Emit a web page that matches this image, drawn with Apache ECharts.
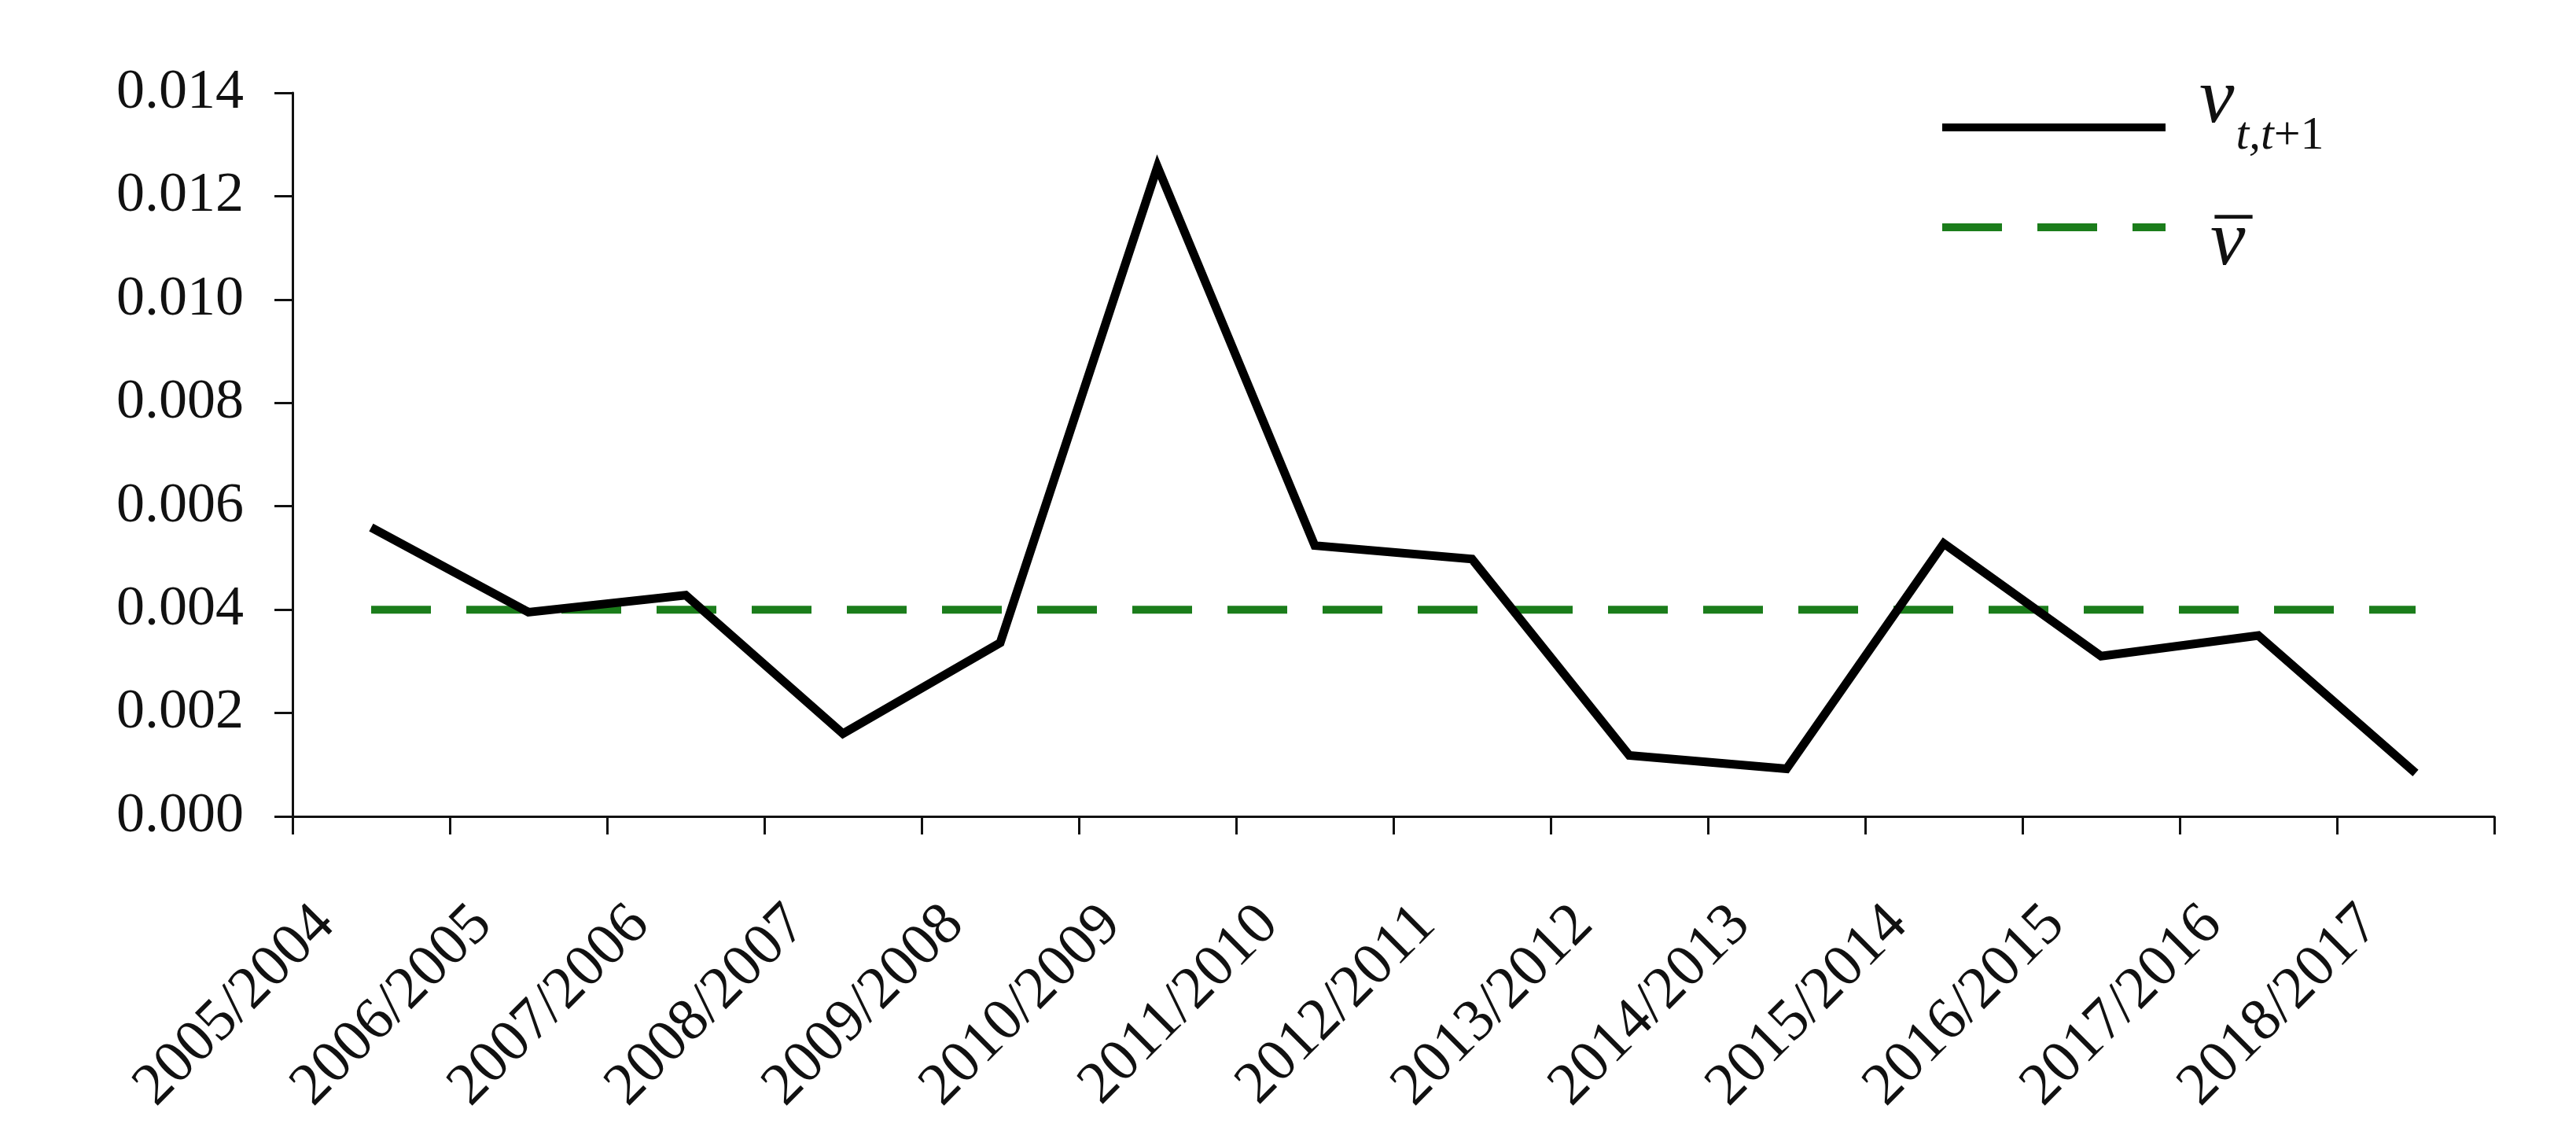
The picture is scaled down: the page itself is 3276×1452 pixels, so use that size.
<!DOCTYPE html>
<html>
<head>
<meta charset="utf-8">
<script src="https://cdn.jsdelivr.net/npm/echarts@6/dist/echarts.min.js"></script>
<style>
html, body { margin: 0; padding: 0; background: #ffffff; }
#chart { width: 3276px; height: 1452px; }
</style>
</head>
<body>
<div id="chart"></div>
<script>
// ---- data ----
const categories = ['2005/2004', '2006/2005', '2007/2006', '2008/2007', '2009/2008', '2010/2009', '2011/2010',
  '2012/2011', '2013/2012', '2014/2013', '2015/2014', '2016/2015', '2017/2016', '2018/2017'];
const changeValues = [0.00559, 0.00395, 0.00428, 0.0016, 0.00336, 0.01257, 0.00524,
  0.00498, 0.00118, 0.00092, 0.00528, 0.0031, 0.0035, 0.00084];
const meanValues = [0.004, 0.004, 0.004, 0.004, 0.004, 0.004, 0.004,
  0.004, 0.004, 0.004, 0.004, 0.004, 0.004, 0.004];
const yMin = 0;
const yMax = 0.014;
const yStep = 0.002;
const seriesNames = ['v_t_t1', 'v_bar'];

// ---- styles ----
const serif = 'Liberation Serif';
const ink = '#111111';
const green = '#1b7d1b';
const dashPattern = [76, 45];

const chart = echarts.init(document.getElementById('chart'), null, { renderer: 'canvas' });

chart.setOption({
  animation: false,
  backgroundColor: '#ffffff',
  grid: { left: 372, right: 104, top: 118, bottom: 414, containLabel: false },
  legend: [
    {
      data: [seriesNames[0]],
      orient: 'vertical', left: 2465, top: 79, padding: 0,
      itemWidth: 284, itemHeight: 10, selectedMode: false,
      itemStyle: { opacity: 0 },
      lineStyle: { width: 10, color: '#000000', type: 'solid' },
      formatter: function () { return '{v|v}{s|t,t}{n|+1}'; },
      textStyle: {
        color: ink,
        rich: {
          v: { fontFamily: serif, fontStyle: 'italic', fontSize: 100, lineHeight: 100, padding: [0, 0, 66, 38], color: ink },
          s: { fontFamily: serif, fontStyle: 'italic', fontSize: 60, lineHeight: 60, padding: [22, 0, 0, 2], color: ink },
          n: { fontFamily: serif, fontSize: 60, lineHeight: 60, padding: [22, 0, 0, 0], color: ink }
        }
      }
    },
    {
      data: [seriesNames[1]],
      orient: 'vertical', left: 2465, top: 225, padding: 0,
      itemWidth: 284, itemHeight: 10, selectedMode: false,
      itemStyle: { opacity: 0 },
      lineStyle: { width: 10, color: green, type: dashPattern },
      formatter: function () { return '{b|\u2013}\n{v|v}'; },
      textStyle: {
        color: ink,
        rich: {
          b: { fontFamily: serif, fontSize: 94, lineHeight: 42, padding: [0, 0, 0, 58], color: ink },
          v: { fontFamily: serif, fontStyle: 'italic', fontSize: 100, lineHeight: 34, padding: [0, 0, 0, 52], color: ink }
        }
      }
    }
  ],
  xAxis: {
    type: 'category',
    data: categories,
    boundaryGap: true,
    axisLine: { show: true, lineStyle: { color: ink, width: 3 } },
    axisTick: { show: true, length: 23, alignWithLabel: false, lineStyle: { color: ink, width: 3 } },
    axisLabel: {
      interval: 0, rotate: 45, margin: 68, padding: [0, 82, 0, 0],
      fontFamily: serif, fontSize: 76, color: ink
    },
    splitLine: { show: false }
  },
  yAxis: {
    type: 'value',
    min: yMin, max: yMax, interval: yStep,
    axisLine: { show: true, lineStyle: { color: ink, width: 3 } },
    axisTick: { show: true, length: 23, lineStyle: { color: ink, width: 3 } },
    axisLabel: {
      margin: 62, fontFamily: serif, fontSize: 72, color: ink,
      formatter: function (v) { return v.toFixed(3); }
    },
    splitLine: { show: false }
  },
  series: [
    {
      name: seriesNames[0], type: 'line', data: changeValues,
      symbol: 'none', showSymbol: false, silent: true,
      lineStyle: { color: '#000000', width: 11, join: 'miter' },
      itemStyle: { color: '#000000' }, z: 3
    },
    {
      name: seriesNames[1], type: 'line', data: meanValues,
      symbol: 'none', showSymbol: false, silent: true,
      lineStyle: { color: green, width: 10, type: dashPattern },
      itemStyle: { color: green }, z: 2
    }
  ]
});
</script>
</body>
</html>
